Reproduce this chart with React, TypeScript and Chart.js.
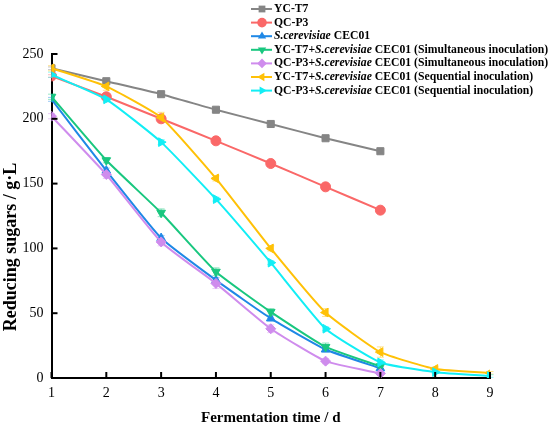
import { useEffect, useRef } from 'react';
import { Chart, ChartConfiguration, Plugin, registerables } from 'chart.js';

Chart.register(...registerables);

const days = [1, 2, 3, 4, 5, 6, 7, 8, 9];

const seriesNames = [
  'YC-T7',
  'QC-P3',
  '*S.cerevisiae* CEC01',
  'YC-T7+*S.cerevisiae* CEC01 (Simultaneous inoculation)',
  'QC-P3+*S.cerevisiae* CEC01 (Simultaneous inoculation)',
  'YC-T7+*S.cerevisiae* CEC01 (Sequential inoculation)',
  'QC-P3+*S.cerevisiae* CEC01 (Sequential inoculation)',
];

const ycT7 = [239, 229, 219, 207, 196, 185, 175];
const qcP3 = [233, 217, 200, 183, 165.5, 147.5, 129.5];
const cec01 = [215, 160, 108, 75.5, 46, 22, 7.5];
const ycSim = [217, 168, 127.5, 82, 51, 24, 9];
const qcSim = [202, 157, 105, 73, 38, 13, 3.5];
const ycSeq = [239, 225, 201, 154, 100, 50.5, 20, 7, 4];
const qcSeq = [234, 215, 182, 138, 89, 38, 12, 4.5, 1.5];

// standard deviations (error bars)
const ycT7Err = [1, 1, 1, 1, 1, 1, 1];
const qcP3Err = [1, 1.5, 1, 1, 1, 1, 2.5];
const cec01Err = [1.5, 2, 2, 2, 2, 2, 2];
const ycSimErr = [2, 2, 3, 3, 2.5, 3, 2];
const qcSimErr = [2, 3, 3, 4, 3, 2, 1.5];
const ycSeqErr = [2, 3, 4, 2, 2, 3, 4, 1.5, 1];
const qcSeqErr = [2, 2, 2, 1.5, 1.5, 1.5, 2, 1, 1];

const colors = ['#858585', '#fa6868', '#1f88e6', '#19c77f', '#cf8ced', '#ffc107', '#12eef5'];
const markers = ['rect', 'circle', 'triangle', 'triangle', 'rectRot', 'triangle', 'triangle'];
const rotations = [0, 0, 0, 180, 0, -90, 90];

const yTicks = [0, 50, 100, 150, 200, 250];

const serif = '"Liberation Serif", "Times New Roman", serif';

const allSeries = [ycT7, qcP3, cec01, ycSim, qcSim, ycSeq, qcSeq];
const allErrors = [ycT7Err, qcP3Err, cec01Err, ycSimErr, qcSimErr, ycSeqErr, qcSeqErr];

function drawMarker(ctx: CanvasRenderingContext2D, style: string, rot: number, r: number, cx: number, cy: number) {
  ctx.save();
  ctx.translate(cx, cy);
  ctx.rotate((rot * Math.PI) / 180);
  ctx.beginPath();
  if (style === 'rect') {
    const s = r * Math.SQRT1_2;
    ctx.rect(-s, -s, 2 * s, 2 * s);
  } else if (style === 'rectRot') {
    ctx.moveTo(0, -r);
    ctx.lineTo(r, 0);
    ctx.lineTo(0, r);
    ctx.lineTo(-r, 0);
    ctx.closePath();
  } else if (style === 'triangle') {
    ctx.moveTo(0, -r);
    ctx.lineTo(r * 0.866, r * 0.5);
    ctx.lineTo(-r * 0.866, r * 0.5);
    ctx.closePath();
  } else {
    ctx.arc(0, 0, r, 0, Math.PI * 2);
  }
  ctx.fill();
  ctx.restore();
}

const errorPlugin: Plugin = {
  id: 'errorBars',
  beforeDatasetsDraw(chart) {
    const ctx = chart.ctx;
    const x = chart.scales.x;
    const y = chart.scales.y;
    ctx.save();
    ctx.lineWidth = 1;
    ctx.globalAlpha = 0.45;
    allSeries.forEach((vals, i) => {
      ctx.strokeStyle = colors[i];
      vals.forEach((v, k) => {
        const e = allErrors[i][k];
        const px = x.getPixelForValue(days[k]);
        const top = y.getPixelForValue(v + e);
        const bot = y.getPixelForValue(Math.max(0, v - e));
        ctx.beginPath();
        ctx.moveTo(px, top);
        ctx.lineTo(px, bot);
        ctx.moveTo(px - 3.5, top);
        ctx.lineTo(px + 3.5, top);
        ctx.moveTo(px - 3.5, bot);
        ctx.lineTo(px + 3.5, bot);
        ctx.stroke();
      });
    });
    ctx.restore();
  },
};

const axisPlugin: Plugin = {
  id: 'axisDecor',
  afterDraw(chart) {
    const ctx = chart.ctx;
    const x = chart.scales.x;
    const y = chart.scales.y;
    const area = chart.chartArea;
    ctx.save();
    ctx.strokeStyle = '#000';
    ctx.lineWidth = 2;
    // inward ticks
    days.forEach((d) => {
      const px = x.getPixelForValue(d);
      ctx.beginPath();
      ctx.moveTo(px, area.bottom);
      ctx.lineTo(px, area.bottom - 6);
      ctx.stroke();
    });
    yTicks.forEach((v) => {
      const py = y.getPixelForValue(v);
      ctx.beginPath();
      ctx.moveTo(area.left, py);
      ctx.lineTo(area.left + 6, py);
      ctx.stroke();
    });
    // axis titles
    ctx.fillStyle = '#000';
    ctx.font = `bold 15px ${serif}`;
    ctx.textAlign = 'center';
    ctx.textBaseline = 'middle';
    ctx.fillText('Fermentation time / d', (area.left + area.right) / 2, 418);
    ctx.translate(11, 247);
    ctx.rotate(-Math.PI / 2);
    ctx.font = `bold 18px ${serif}`;
    ctx.fillText('Reducing sugars / g·L', 0, 0);
    ctx.restore();

    // legend
    ctx.save();
    seriesNames.forEach((name, i) => {
      const ry = 9 + i * 13.6;
      ctx.strokeStyle = colors[i];
      ctx.lineWidth = 2;
      ctx.beginPath();
      ctx.moveTo(251, ry);
      ctx.lineTo(272, ry);
      ctx.stroke();
      ctx.fillStyle = colors[i];
      drawMarker(ctx, markers[i], rotations[i], 4.8, 262, ry);
      let tx = 274;
      ctx.fillStyle = '#000';
      ctx.textBaseline = 'middle';
      ctx.textAlign = 'left';
      name.split('*').forEach((part, j) => {
        ctx.font = `${j % 2 === 1 ? 'italic ' : ''}bold 11.7px ${serif}`;
        ctx.fillText(part, tx, ry);
        tx += ctx.measureText(part).width;
      });
    });
    ctx.restore();
  },
};

export default function App() {
  const canvasRef = useRef<HTMLCanvasElement>(null);
  const chartRef = useRef<Chart | null>(null);

  useEffect(() => {
    if (!canvasRef.current) return;
    if (chartRef.current) chartRef.current.destroy();
    const ctx = canvasRef.current.getContext('2d');
    if (!ctx) return;

    const config: ChartConfiguration = {
      type: 'line',
      data: {
        datasets: allSeries.map((vals, i) => ({
          label: seriesNames[i].replace(/\*/g, ''),
          data: vals.map((v, k) => ({ x: days[k], y: v })),
          borderColor: colors[i],
          backgroundColor: colors[i],
          borderWidth: 2,
          pointStyle: markers[i] as any,
          rotation: rotations[i],
          pointRadius: 5,
          pointBorderWidth: 1,
          tension: 0.15,
          order: 7 - i,
        })),
      },
      options: {
        responsive: false,
        maintainAspectRatio: false,
        animation: false,
        layout: { padding: { left: 0, top: 54, right: 60, bottom: 0 } },
        plugins: {
          legend: { display: false },
          tooltip: { enabled: false },
        },
        scales: {
          x: {
            type: 'linear',
            min: 1,
            max: 9,
            afterFit: (s: any) => { s.height = 48; },
            grid: { display: false, drawTicks: false },
            border: { display: true, color: '#000', width: 2 },
            ticks: {
              stepSize: 1,
              padding: 7,
              color: '#000',
              font: { family: serif, size: 14 },
            },
          },
          y: {
            min: 0,
            max: 250,
            afterFit: (s: any) => { s.width = 51.5; },
            grid: { display: false, drawTicks: false },
            border: { display: true, color: '#000', width: 2 },
            ticks: {
              stepSize: 50,
              padding: 8,
              color: '#000',
              font: { family: serif, size: 14 },
            },
          },
        },
      },
      plugins: [errorPlugin, axisPlugin],
    };

    chartRef.current = new Chart(ctx, config);
    return () => {
      if (chartRef.current) chartRef.current.destroy();
    };
  }, []);

  return (
    <div style={{ width: 550, height: 426, position: 'relative', background: '#fff' }}>
      <style>{'body{margin:0}'}</style>
      <canvas ref={canvasRef} width={550} height={426} />
    </div>
  );
}
